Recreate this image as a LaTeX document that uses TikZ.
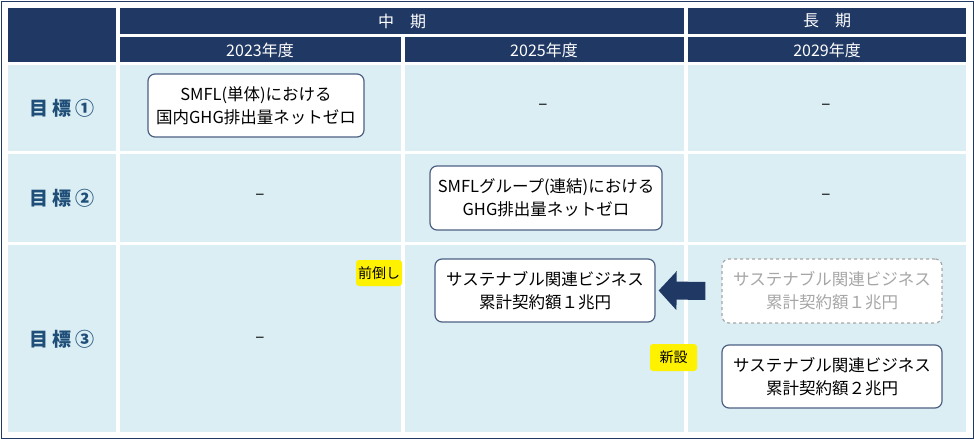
\documentclass[tikz,border=0pt]{standalone}
\usepackage{fontspec}
\newfontfamily\jp{Noto Sans CJK JP}
\usetikzlibrary{arrows.meta}
\definecolor{navy}{HTML}{203864}
\definecolor{cellbg}{HTML}{DAEEF3}
\definecolor{labblue}{HTML}{1F4E79}
\begin{document}
\begin{tikzpicture}[x=1pt,y=-1pt,
  hdr/.style={fill=navy},
  cell/.style={fill=cellbg},
  goalbox/.style={draw=navy!80, line width=1.2pt, fill=white, rounded corners=7pt, align=center, font=\jp\fontsize{16.5}{23}\selectfont, inner sep=0pt},
  tag/.style={fill=yellow, rounded corners=3pt, font=\jp\fontsize{14}{15}\selectfont, inner sep=0pt}]
\useasboundingbox (0,0) rectangle (974,439);
\fill[white] (0,0) rectangle (974,439);
\draw[navy, line width=1pt] (1,1) rectangle (973,438);
% header
\fill[hdr] (8,8) rectangle (116,62);
\fill[hdr] (120,8) rectangle (684,34);
\fill[hdr] (688,8) rectangle (966,34);
\fill[hdr] (120,37) rectangle (401,62);
\fill[hdr] (405,37) rectangle (684,62);
\fill[hdr] (688,37) rectangle (966,62);
\node[white, font=\jp\fontsize{16}{17}\selectfont] (mid) at (402,21) {中\quad 期};
\node[white, font=\jp\fontsize{16}{17}\selectfont] (long) at (827,21) {長\quad 期};
\node[white, font=\jp\fontsize{16}{17}\selectfont] (y23) at (260,50) {2023年度};
\node[white, font=\jp\fontsize{16}{17}\selectfont] (y25) at (544,50) {2025年度};
\node[white, font=\jp\fontsize{16}{17}\selectfont] (y29) at (827,50) {2029年度};
% body cells
\foreach \ya/\yb in {65/151,154/242,245/432}{
  \fill[cell] (8,\ya) rectangle (116,\yb);
  \fill[cell] (120,\ya) rectangle (401,\yb);
  \fill[cell] (405,\ya) rectangle (684,\yb);
  \fill[cell] (688,\ya) rectangle (966,\yb);
}
\node[labblue, font=\jp\bfseries\fontsize{19}{20}\selectfont] (g1) at (62,108) {目 標 ①};
\node[labblue, font=\jp\bfseries\fontsize{19}{20}\selectfont] (g2) at (62,198) {目 標 ②};
\node[labblue, font=\jp\bfseries\fontsize{19}{20}\selectfont] (g3) at (62,339) {目 標 ③};
% dashes
\node[font=\jp\fontsize{17}{18}\selectfont] (d1) at (543,107) {–};
\node[font=\jp\fontsize{17}{18}\selectfont] (d2) at (826,107) {–};
\node[font=\jp\fontsize{17}{18}\selectfont] (d3) at (260,197) {–};
\node[font=\jp\fontsize{17}{18}\selectfont] (d4) at (826,197) {–};
\node[font=\jp\fontsize{17}{18}\selectfont] (d5) at (260,340) {–};
% goal boxes
\node[goalbox, minimum width=216pt, minimum height=63pt] (smfl) at (256,105.5) {SMFL(単体)における\\国内GHG排出量ネットゼロ};
\node[goalbox, minimum width=232pt, minimum height=64pt] (group) at (546,198) {SMFLグループ(連結)における\\GHG排出量ネットゼロ};
\node[goalbox, minimum width=220pt, minimum height=63pt] (sus1) at (545,290.5) {サステナブル関連ビジネス\\累計契約額１兆円};
\node[goalbox, draw=gray!70, dashed, text=gray!70, minimum width=220pt, minimum height=64pt] (old) at (832,291) {サステナブル関連ビジネス\\累計契約額１兆円};
\node[goalbox, minimum width=220pt, minimum height=63pt] (sus2) at (832,376.5) {サステナブル関連ビジネス\\累計契約額２兆円};
\node[tag, minimum width=46pt, minimum height=26pt] (early) at (379,273) {前倒し};
\node[tag, minimum width=47pt, minimum height=27pt] (new) at (673.5,357.5) {新設};
\draw[navy, line width=18pt, -{Triangle[width=38pt,length=18pt]}, shorten <=16pt, shorten >=3pt] (old.west) -- (sus1.east);
\end{tikzpicture}
\end{document}
